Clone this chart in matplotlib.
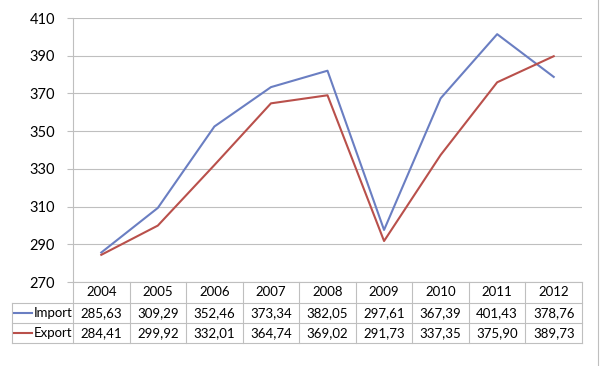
import numpy as np
import matplotlib.pyplot as plt

years = ["2004", "2005", "2006", "2007", "2008", "2009", "2010", "2011", "2012"]
imports = [285.63, 309.29, 352.46, 373.34, 382.05, 297.61, 367.39, 401.43, 378.76]
exports = [284.41, 299.92, 332.01, 364.74, 369.02, 291.73, 337.35, 375.90, 389.73]
series_names = ["Import", "Export"]
colors = ["#6A7EC2", "#B9504B"]

plt.rcParams['font.family'] = ['Lato', 'DejaVu Sans']
fs = 9.5
grid_c = "#BFBFBF"

fig = plt.figure(figsize=(6, 3.66), dpi=100)
W, H = 600, 366
left, right, top, bottom = 73, 582, 18, 282
ax = fig.add_axes([left / W, 1 - bottom / H, (right - left) / W, (bottom - top) / H])

x = np.arange(len(years))
ax.plot(x, imports, color=colors[0], lw=1.5)
ax.plot(x, exports, color=colors[1], lw=1.5)

ax.set_xlim(-0.5, len(years) - 0.5)
ax.set_ylim(270, 410)
ax.set_yticks(np.arange(270, 411, 20))
ax.set_xticks([])
ax.yaxis.grid(True, color=grid_c, lw=0.8)
ax.set_axisbelow(True)
for s in ["top", "right"]:
    ax.spines[s].set_visible(False)
ax.spines["left"].set_color(grid_c)
ax.spines["bottom"].set_color(grid_c)
ax.tick_params(axis="y", length=4, color=grid_c, labelsize=fs + 1, pad=9)


# data table below axis, in pixel units
def fx(px):
    return px / W


def fy(py):
    return 1 - py / H


row_y = [282, 303, 323, 343]
col_x = [left + (right - left) * i / len(years) for i in range(len(years) + 1)]
tbl_left = 12
lk = dict(color=grid_c, lw=0.8, transform=fig.transFigure)

for cx in col_x:
    fig.add_artist(plt.Line2D([fx(cx), fx(cx)], [fy(row_y[0]), fy(row_y[-1])], **lk))
fig.add_artist(plt.Line2D([fx(tbl_left), fx(tbl_left)], [fy(row_y[1]), fy(row_y[-1])], **lk))
for ry in row_y[1:]:
    fig.add_artist(plt.Line2D([fx(tbl_left), fx(right)], [fy(ry), fy(ry)], **lk))

for i, yr in enumerate(years):
    cx = (col_x[i] + col_x[i + 1]) / 2
    fig.text(fx(cx), fy((row_y[0] + row_y[1]) / 2), yr, ha="center", va="center", fontsize=fs)
    for r, vals in enumerate([imports, exports]):
        fig.text(fx(cx), fy((row_y[r + 1] + row_y[r + 2]) / 2),
                 f"{vals[i]:.2f}".replace(".", ","), ha="center", va="center", fontsize=fs)

for r, name in enumerate(series_names):
    cy = fy((row_y[r + 1] + row_y[r + 2]) / 2)
    fig.add_artist(plt.Line2D([fx(14), fx(32)], [cy, cy], color=colors[r], lw=1.5,
                              transform=fig.transFigure))
    fig.text(fx(33.5), cy, name, ha="left", va="center", fontsize=fs)

fig.add_artist(plt.Line2D([fx(598), fx(598)], [fy(0), fy(366)], **lk))

fig.savefig("out.png", dpi=100)
